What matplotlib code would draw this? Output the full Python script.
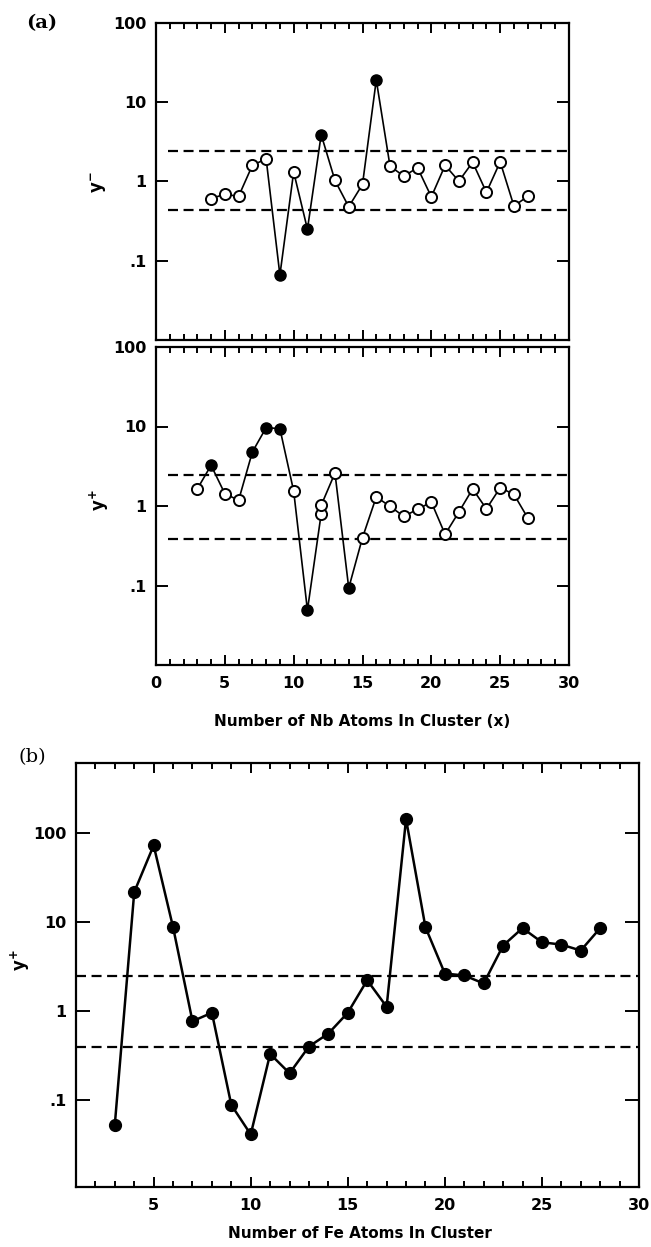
import matplotlib
matplotlib.use("Agg")
import matplotlib.pyplot as plt
from matplotlib.ticker import FixedLocator, FixedFormatter, MultipleLocator, NullLocator

plt.rcParams['font.family'] = ['DejaVu Sans']
plt.rcParams['font.weight'] = 'bold'

# ---- Panel (a) upper: Nb cluster anions (y-)
nb_neg_x = [4, 5, 6, 7, 8, 9, 10, 11, 12, 13, 14, 15, 16, 17, 18, 19, 20, 21, 22, 23, 24, 25, 26, 27]
nb_neg_y = [0.61, 0.69, 0.65, 1.60, 1.93, 0.066, 1.32, 0.25, 3.9, 1.03, 0.48, 0.92, 19.1, 1.56,
            1.17, 1.49, 0.64, 1.60, 1.01, 1.75, 0.73, 1.77, 0.49, 0.65]
nb_neg_filled = [False, False, False, False, False, True, False, True, True, False, False, False, True, False,
                 False, False, False, False, False, False, False, False, False, False]
nb_neg_bounds = [2.4, 0.44]

# ---- Panel (a) lower: Nb cluster cations (y+)
nb_pos_x = [3, 4, 5, 6, 7, 8, 9, 10, 11, 12, 12, 13, 14, 15, 16, 17, 18, 19, 20, 21, 22, 23, 24, 25, 26, 27]
nb_pos_y = [1.64, 3.25, 1.43, 1.18, 4.78, 9.67, 9.4, 1.54, 0.049, 0.80, 1.02, 2.6, 0.093, 0.40, 1.30, 0.99,
            0.74, 0.91, 1.12, 0.44, 0.84, 1.64, 0.92, 1.70, 1.40, 0.71]
nb_pos_filled = [False, True, False, False, True, True, True, False, True, False, False, False, True, False,
                 False, False, False, False, False, False, False, False, False, False, False, False]
nb_pos_bounds = [2.43, 0.39]

# ---- Panel (b): Fe cluster cations (y+)
fe_x = [3, 4, 5, 6, 7, 8, 9, 10, 11, 12, 13, 14, 15, 16, 17, 18, 19, 20, 21, 22, 23, 24, 25, 26, 27, 28]
fe_y = [0.053, 21.9, 73.3, 8.8, 0.77, 0.96, 0.088, 0.041, 0.33, 0.20, 0.40, 0.56, 0.96, 2.23, 1.12, 145,
        8.8, 2.65, 2.52, 2.05, 5.47, 8.6, 5.96, 5.61, 4.81, 8.6]
fe_bounds = [2.5, 0.40]

ytick_vals = [0.1, 1, 10, 100]
ytick_labels = ['.1', '1', '10', '100']
xtick_labels_a = ['0', '5', '10', '15', '20', '25', '30']
xtick_labels_b = ['5', '10', '15', '20', '25', '30']

fig = plt.figure(figsize=(6.51, 12.47), dpi=100)
W, H = 651.0, 1247.0

def ax_px(l, t, r, b):
    return fig.add_axes([l / W, 1 - b / H, (r - l) / W, (b - t) / H])

ax1 = ax_px(156, 23, 569, 340)
ax2 = ax_px(156, 347, 569, 665)
ax3 = ax_px(76, 763, 639, 1187)

def style(ax, xlim, ylim, xmajor, xlabels, ymaj_len, show_xlabels):
    ax.set_yscale('log')
    ax.set_xlim(*xlim)
    ax.set_ylim(*ylim)
    ax.yaxis.set_major_locator(FixedLocator(ytick_vals))
    ax.yaxis.set_major_formatter(FixedFormatter(ytick_labels))
    ax.yaxis.set_minor_locator(NullLocator())
    ax.xaxis.set_major_locator(FixedLocator(xmajor))
    if show_xlabels:
        ax.xaxis.set_major_formatter(FixedFormatter(xlabels))
    else:
        ax.set_xticklabels([])
    ax.xaxis.set_minor_locator(MultipleLocator(1))
    for s in ax.spines.values():
        s.set_linewidth(1.6)
    ax.tick_params(axis='both', which='both', direction='in', top=True, right=True, width=1.4)
    ax.tick_params(axis='y', which='major', length=ymaj_len, labelsize=11.5, pad=7)
    ax.tick_params(axis='x', which='major', length=7.5, labelsize=11.5, pad=8)
    ax.tick_params(axis='x', which='minor', length=4)
    for lab in ax.get_xticklabels() + ax.get_yticklabels():
        lab.set_fontweight('bold')

def draw_series(ax, xs, ys, filled, lw, ms):
    ax.plot(xs, ys, color='black', lw=lw, zorder=2)
    fx = [x for x, f in zip(xs, filled) if f]
    fy = [y for y, f in zip(ys, filled) if f]
    ox = [x for x, f in zip(xs, filled) if not f]
    oy = [y for y, f in zip(ys, filled) if not f]
    ax.plot(ox, oy, 'o', ms=ms, mfc='white', mec='black', mew=1.4, ls='none', zorder=3)
    ax.plot(fx, fy, 'o', ms=ms, mfc='black', mec='black', ls='none', zorder=3)

def bounds(ax, vals, x0, x1):
    for v in vals:
        ln, = ax.plot([x0, x1], [v, v], color='black', lw=1.6, zorder=1)
        ln.set_dashes((4.5, 2.5))

xmaj_a = [0, 5, 10, 15, 20, 25, 30]
style(ax1, (0, 30), (0.01, 100), xmaj_a, xtick_labels_a, 8.5, False)
style(ax2, (0, 30), (0.01, 100), xmaj_a, xtick_labels_a, 8.5, True)
style(ax3, (1, 30), (0.0105, 620), [5, 10, 15, 20, 25, 30], xtick_labels_b, 10, True)

draw_series(ax1, nb_neg_x, nb_neg_y, nb_neg_filled, 1.2, 8)
draw_series(ax2, nb_pos_x, nb_pos_y, nb_pos_filled, 1.2, 8)
draw_series(ax3, fe_x, fe_y, [True] * len(fe_x), 1.8, 8.5)

bounds(ax1, nb_neg_bounds, 0.9, 30)
bounds(ax2, nb_pos_bounds, 0.9, 30)
bounds(ax3, fe_bounds, 1, 30)

fig.text(42 / W, 1 - 23 / H, '(a)', family='DejaVu Serif', fontsize=14, fontweight='bold', ha='center', va='center')
fig.text(32 / W, 1 - 757 / H, '(b)', family='DejaVu Serif', fontsize=14, fontweight='normal', ha='center', va='center')

fig.text(99 / W, 1 - 182 / H, 'y$^{\\mathbf{-}}$', fontsize=12, fontweight='bold', rotation=90, ha='center', va='center')
fig.text(99 / W, 1 - 500 / H, 'y$^{\\mathbf{+}}$', fontsize=12, fontweight='bold', rotation=90, ha='center', va='center')
fig.text(20 / W, 1 - 960 / H, 'y$^{\\mathbf{+}}$', fontsize=12, fontweight='bold', rotation=90, ha='center', va='center')

fig.text(362 / W, 1 - 722 / H, 'Number of Nb Atoms In Cluster (x)', fontsize=11, fontweight='bold', ha='center', va='center')
fig.text(360 / W, 1 - 1234 / H, 'Number of Fe Atoms In Cluster', fontsize=11, fontweight='bold', ha='center', va='center')

fig.savefig('out.png', dpi=100)
